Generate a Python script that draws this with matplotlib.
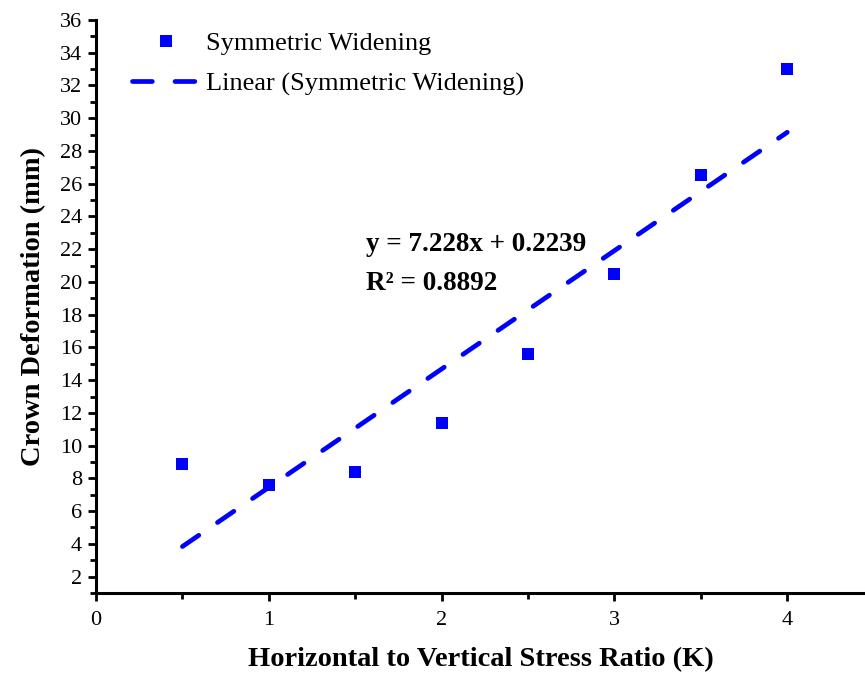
import matplotlib
matplotlib.use("Agg")
import matplotlib.pyplot as plt
from matplotlib.ticker import MultipleLocator

# stress ratio K and measured crown deformation (mm)
k_ratio = [0.5, 1.0, 1.5, 2.0, 2.5, 3.0, 3.5, 4.0]
crown_def = [8.85, 7.6, 8.4, 11.4, 15.6, 20.5, 26.5, 33.0]

# linear trend reported for the series
slope = 7.228
intercept = 0.2239
r_squared = 0.8892

plt.rcParams["font.family"] = ["Liberation Serif", "DejaVu Serif"]

fig = plt.figure(figsize=(8.65, 6.75), dpi=100)
ax = fig.add_axes([0.111, 0.1215, 0.889, 0.849])

blue = "#0000ff"
ax.plot(k_ratio, crown_def, "s", color=blue, ms=8.5, mew=0,
        label="Symmetric Widening")
fit_x = [k_ratio[0], k_ratio[-1]]
fit_y = [slope * x + intercept for x in fit_x]
ax.plot(fit_x, fit_y, color=blue, lw=3.4, ls=(0, (4.2, 4.8)),
        dash_capstyle="round", label="Linear (Symmetric Widening)")

ax.text(1.56, 22.3, f"y = {slope}x + {intercept}", fontsize=19.5,
        fontweight="bold", ha="left", va="center")
ax.text(1.56, 19.9, f"R² = {r_squared}", fontsize=19.5,
        fontweight="bold", ha="left", va="center")

ax.set_xlim(0, 4.45)
ax.set_ylim(1, 36)
ax.xaxis.set_major_locator(MultipleLocator(1))
ax.xaxis.set_minor_locator(MultipleLocator(0.5))
ax.set_yticks(range(2, 37, 2))
ax.yaxis.set_minor_locator(MultipleLocator(1))

for side in ("top", "right"):
    ax.spines[side].set_visible(False)
for side in ("left", "bottom"):
    ax.spines[side].set_linewidth(2.2)
ax.tick_params(which="major", direction="out", length=6, width=2.0,
               labelsize=16, pad=4)
ax.tick_params(which="minor", direction="out", length=4, width=2.0)
ax.tick_params(axis="x", pad=7)

ax.set_xlabel("Horizontal to Vertical Stress Ratio (K)", fontsize=20.5,
              fontweight="bold", labelpad=12)
ax.set_ylabel("Crown Deformation (mm)", fontsize=20.5, fontweight="bold",
              labelpad=10)

fig.legend(*ax.get_legend_handles_labels(), loc="upper left",
           bbox_to_anchor=(132 / 865, 1 - 32 / 675), frameon=False,
           fontsize=19, handlelength=2.6, handletextpad=0.2,
           labelspacing=0.63, borderpad=0, borderaxespad=0)

fig.savefig("out.png", dpi=100)
